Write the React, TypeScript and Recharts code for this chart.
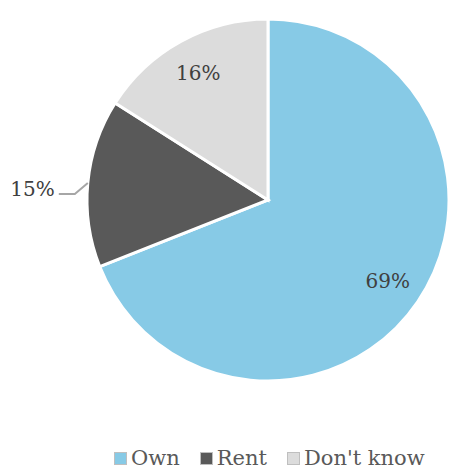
import { PieChart, Pie, Cell, Legend } from "recharts"

const categories = ["Own", "Rent", "Don't know"]
const shares = [69, 15, 16]
const COLORS = ["#87CAE6", "#595959", "#DCDCDC"]

const data = categories.map((name, i) => ({ name, value: shares[i] }))

const FONT = "'DejaVu Serif', serif"
const RADIAN = Math.PI / 180

const renderLabel = (props: any) => {
  const { cx, cy, midAngle, outerRadius, index, value } = props
  const cos = Math.cos(-midAngle * RADIAN)
  const sin = Math.sin(-midAngle * RADIAN)
  if (index === 1) {
    // outside label with leader line
    const sx = cx + outerRadius * cos
    const sy = cy + outerRadius * sin
    const mx = sx - 13
    const my = sy + 11
    const ex = mx - 16
    return (
      <g>
        <polyline points={`${sx},${sy} ${mx},${my} ${ex},${my}`} fill="none" stroke="#A6A6A6" strokeWidth={2} />
        <text x={ex - 4} y={my - 5} textAnchor="end" dominantBaseline="central" fill="#404040" fontSize={20} fontFamily={FONT}>
          {value}%
        </text>
      </g>
    )
  }
  const r = outerRadius * 0.8
  return (
    <text x={cx + r * cos} y={cy + r * sin} textAnchor="middle" dominantBaseline="central" fill="#404040" fontSize={20} fontFamily={FONT}>
      {value}%
    </text>
  )
}

const renderLegend = () => (
  <div style={{ display: "flex", justifyContent: "flex-start", fontFamily: FONT, fontSize: 21, color: "#595959", paddingLeft: 114 }}>
    {categories.map((c, i) => (
      <div key={c} style={{ display: "flex", alignItems: "center", marginRight: 20 }}>
        <span style={{ width: 11, height: 11, background: COLORS[i], border: "1px solid #BFBFBF", marginRight: 4, display: "inline-block" }} />
        <span>{c}</span>
      </div>
    ))}
  </div>
)

export default function App() {
  return (
    <div style={{ position: "absolute", left: 0, top: 0, background: "#fff" }}>
      <PieChart width={449} height={470} margin={{ top: 0, right: 0, bottom: 0, left: 0 }}>
        <Pie
          data={data}
          dataKey="value"
          nameKey="name"
          cx={268}
          cy={200}
          outerRadius={181}
          startAngle={90}
          endAngle={-270}
          stroke="#FFFFFF"
          strokeWidth={3}
          label={renderLabel}
          labelLine={false}
          isAnimationActive={false}
        >
          {data.map((entry, index) => (
            <Cell key={`cell-${index}`} fill={COLORS[index]} />
          ))}
        </Pie>
        <Legend verticalAlign="bottom" content={renderLegend} wrapperStyle={{ bottom: 0, left: 0, width: 449 }} />
      </PieChart>
    </div>
  )
}
